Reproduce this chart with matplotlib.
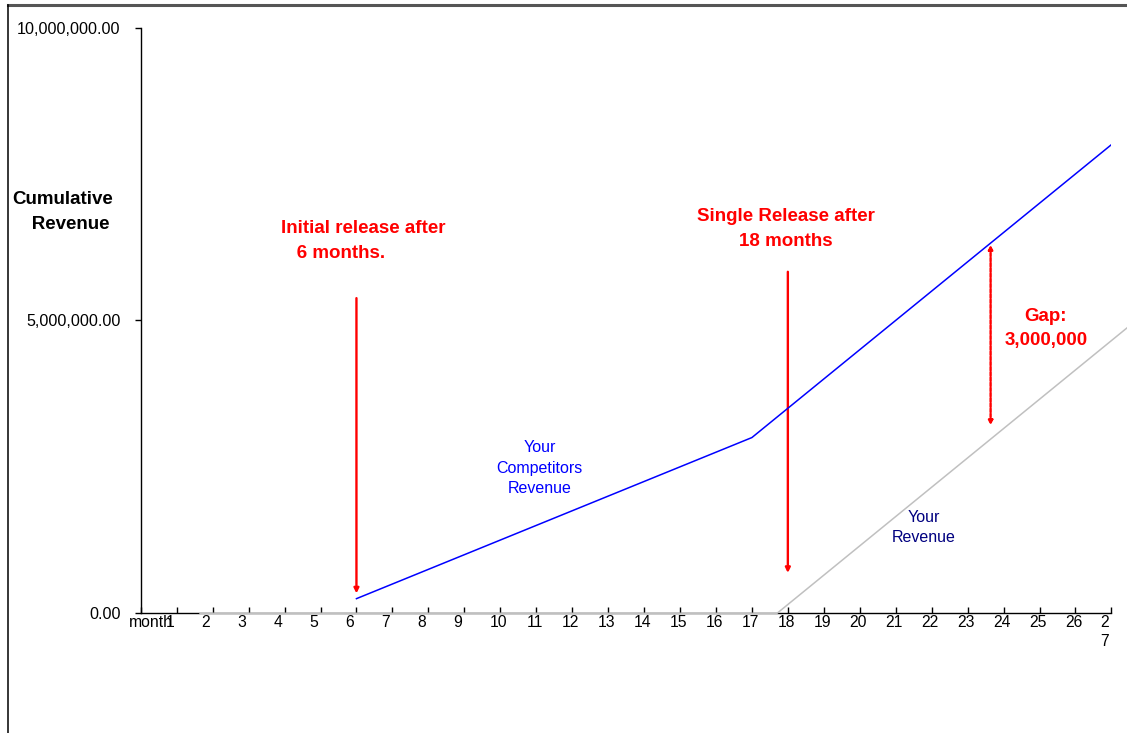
import matplotlib
matplotlib.use("Agg")
import matplotlib.pyplot as plt
from matplotlib.lines import Line2D
from matplotlib.transforms import ScaledTranslation

# ─── DATA ───

months = list(range(0, 28))
month_labels = ["month"] + [str(m) for m in range(1, 27)] + ["2\n7"]

competitor_months = [6, 17, 27]
competitor_revenue = [250000, 3000000, 8000000]

your_months = [1.65, 17.7, 27.43]
your_revenue = [0, 0, 4870000]

initial_arrow = (6.0, 5380000, 340000)     # x, top, bottom
single_arrow = (18.0, 5830000, 690000)
gap_arrow = (23.64, 6290000, 3210000)

W, H = 1127, 733
DPI = 100

plt.rcParams["font.family"] = ["Liberation Sans", "DejaVu Sans"]

fig = plt.figure(figsize=(W / DPI, H / DPI), dpi=DPI)
ax = fig.add_axes([140.75 / W, 1 - 613.3 / H, (1111.4 - 140.75) / W, (613.3 - 27.5) / H])

# frame round the whole chart
fig.add_artist(Line2D([8 / W, 1.01], [1 - 4.5 / H, 1 - 4.5 / H], color="#555555", lw=2.2))
fig.add_artist(Line2D([8 / W, 8 / W], [-0.01, 1 - 4.5 / H], color="black", lw=1.1))

# ─── SERIES ───

ax.plot(competitor_months, competitor_revenue, color="#0000ff", lw=1.1, zorder=4)
ax.plot(your_months, your_revenue, color="#c0c0c0", lw=1.1, zorder=4, clip_on=False)

# ─── AXES ───

ax.set_xlim(0, 27)
ax.set_ylim(0, 10000000)
ax.spines[["top", "right"]].set_visible(False)
ax.spines["left"].set_linewidth(1.0)
ax.spines["bottom"].set_linewidth(1.0)

ax.set_yticks([0, 5000000, 10000000])
ax.set_yticklabels(["0.00", "5,000,000.00", "10,000,000.00"], fontsize=11.6)
ax.tick_params(axis="y", direction="out", length=4.5, width=1.0, pad=10)

ax.set_xticks(months)
ax.set_xticklabels(month_labels, fontsize=11.3, va="top", linespacing=1.3)
ax.tick_params(axis="x", direction="in", length=4.5, width=1.0, pad=1.5)

for lab in ax.get_xticklabels():
    txt = lab.get_text()
    if txt == "month":
        dx = 10
    elif len(txt) == 2:
        dx = -1.5
    else:
        dx = -6.7
    lab.set_transform(lab.get_transform() + ScaledTranslation(dx / DPI, 0, fig.dpi_scale_trans))

fig.text(63 / W, 1 - 212 / H, "Cumulative\n   Revenue", ha="center", va="center",
         fontsize=13.5, fontweight="bold", linespacing=1.55)

# ─── ANNOTATIONS ───

for x, top, bottom in [initial_arrow, single_arrow]:
    ax.annotate("", xy=(x, bottom), xytext=(x, top),
                arrowprops=dict(arrowstyle="-|>", color="red", lw=1.7,
                                mutation_scale=7, shrinkA=0, shrinkB=0))

gx, gtop, gbottom = gap_arrow
ax.annotate("", xy=(gx, gbottom), xytext=(gx, gtop),
            arrowprops=dict(arrowstyle="<|-|>", color="red", lw=1.7, ls=(0, (1.5, 0.7)),
                            mutation_scale=6, shrinkA=0, shrinkB=0))

red_kw = dict(color="red", fontsize=13.5, fontweight="bold", va="center", linespacing=1.55)
ax.text(3.90, 6355000, "Initial release after\n   6 months.", ha="left", **red_kw)
ax.text(17.95, 6560000, "Single Release after\n18 months", ha="center", **red_kw)
ax.text(25.18, 4860000, "Gap:\n3,000,000", ha="center", **red_kw)

ax.text(11.10, 2480000, "Your\nCompetitors\nRevenue", ha="center", va="center",
        color="#0000ff", fontsize=11.5, linespacing=1.42)
ax.text(21.79, 1470000, "Your\nRevenue", ha="center", va="center",
        color="#000080", fontsize=11.5, linespacing=1.42)

fig.savefig("out.png", dpi=DPI)
